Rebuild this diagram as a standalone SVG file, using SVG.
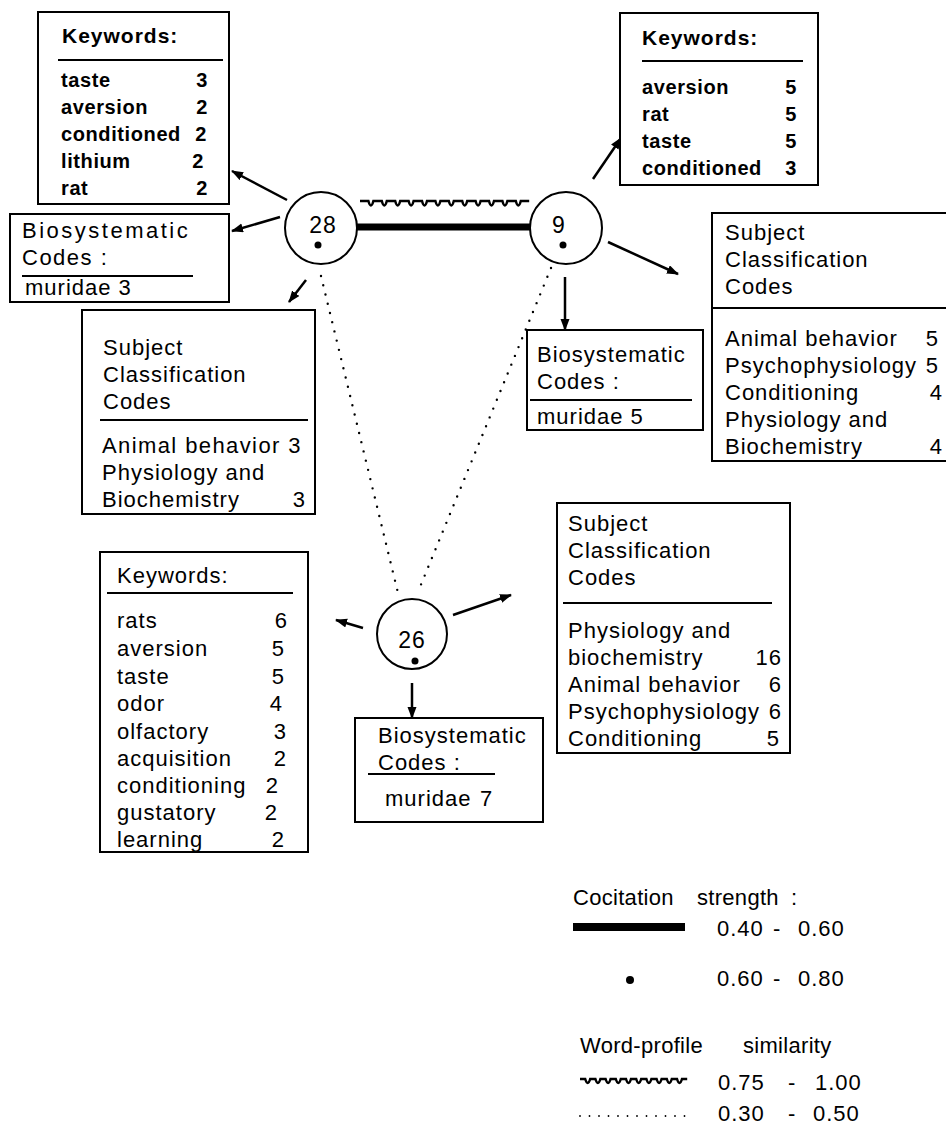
<svg xmlns="http://www.w3.org/2000/svg" width="946" height="1141" viewBox="0 0 946 1141">
<defs>
<style>
.box{fill:#fff;stroke:#000;stroke-width:2}
.sep{stroke:#000;stroke-width:2}
.t{font-family:"Liberation Sans",Arial,sans-serif;font-size:22px;letter-spacing:1px;fill:#000}
.k{font-family:"Liberation Sans",Arial,sans-serif;font-size:20px;font-weight:bold;letter-spacing:0.6px;fill:#000}
.e{text-anchor:end}
.circ{fill:#fff;stroke:#000;stroke-width:2}
.arr{stroke:#000;stroke-width:2.5;fill:none;marker-end:url(#ah)}
.dot{stroke:#000;stroke-width:2.4;stroke-linecap:round;stroke-dasharray:0 9.5;fill:none}
.wave{stroke:#000;stroke-width:2.5;fill:none}
</style>
<marker id="ah" markerUnits="userSpaceOnUse" markerWidth="12" markerHeight="10" refX="11" refY="4.5" orient="auto">
<path d="M0,0 L12,4.5 L0,9 z" fill="#000"/>
</marker>
</defs>
<rect width="946" height="1141" fill="#fff"/>

<g id="connectors">
<line x1="357" y1="227" x2="531" y2="227" stroke="#000" stroke-width="7"/>
<path class="wave" d="M360,201 h8.4 q2.5,9 5,0 h8.4 q2.5,9 5,0 h8.4 q2.5,9 5,0 h8.4 q2.5,9 5,0 h8.4 q2.5,9 5,0 h8.4 q2.5,9 5,0 h8.4 q2.5,9 5,0 h8.4 q2.5,9 5,0 h8.4 q2.5,9 5,0 h8.4 q2.5,9 5,0 h8.4 q2.5,9 5,0 h8.4 q2.5,9 5,0 h8.4"/>
<line class="dot" x1="321" y1="276" x2="398" y2="593"/>
<line class="dot" x1="551" y1="268" x2="420" y2="587"/>
<line class="arr" x1="287" y1="200" x2="232" y2="171"/>
<line class="arr" x1="280" y1="217" x2="232" y2="231"/>
<line class="arr" x1="306" y1="280" x2="289" y2="302"/>
<line class="arr" x1="593" y1="179" x2="621" y2="138"/>
<line class="arr" x1="608" y1="242" x2="678" y2="274"/>
<line class="arr" x1="565" y1="277" x2="565" y2="330"/>
<line class="arr" x1="363" y1="628" x2="336" y2="620"/>
<line class="arr" x1="453" y1="615" x2="511" y2="595"/>
<line class="arr" x1="412" y1="683" x2="412" y2="718"/>
</g>

<g id="node-28">
<circle class="circ" cx="321" cy="228" r="36"/>
<text class="t" x="323" y="233" text-anchor="middle" style="font-size:23px">28</text>
<circle cx="318" cy="245" r="3.5" fill="#000"/>
</g>

<g id="node-9">
<circle class="circ" cx="566" cy="228" r="36"/>
<text class="t" x="559" y="233" text-anchor="middle" style="font-size:23px">9</text>
<circle cx="563" cy="245" r="3.5" fill="#000"/>
</g>

<g id="node-26">
<circle class="circ" cx="412" cy="634" r="35"/>
<text class="t" x="412" y="648" text-anchor="middle" style="font-size:23px">26</text>
<circle cx="415" cy="661" r="3.5" fill="#000"/>
</g>

<g id="keywords-28">
<rect class="box" x="38" y="12" width="191" height="192"/>
<text class="k" x="62" y="43" style="font-size:21px;letter-spacing:1px">Keywords:</text>
<line class="sep" x1="58" y1="60" x2="223" y2="60"/>
<text class="k" x="61" y="87">taste</text><text class="k e" x="208" y="87">3</text>
<text class="k" x="61" y="114">aversion</text><text class="k e" x="208" y="114">2</text>
<text class="k" x="61" y="141">conditioned</text><text class="k e" x="207" y="141">2</text>
<text class="k" x="61" y="168">lithium</text><text class="k e" x="204" y="168">2</text>
<text class="k" x="61" y="195">rat</text><text class="k e" x="208" y="195">2</text>
</g>

<g id="biosys-28">
<rect class="box" x="10" y="214" width="219" height="88"/>
<text class="t" x="22" y="238" style="letter-spacing:2.5px">Biosystematic</text>
<text class="t" x="22" y="265" style="letter-spacing:1.5px">Codes :</text>
<line class="sep" x1="22" y1="276" x2="193" y2="276"/>
<text class="t" x="25" y="295">muridae 3</text>
</g>

<g id="subject-28">
<rect class="box" x="82" y="310" width="233" height="204"/>
<text class="t" x="103" y="355">Subject</text>
<text class="t" x="103" y="382">Classification</text>
<text class="t" x="103" y="409">Codes</text>
<line class="sep" x1="100" y1="420" x2="308" y2="420"/>
<text class="t" x="102" y="453" style="letter-spacing:1.4px">Animal behavior 3</text>
<text class="t" x="102" y="480">Physiology and</text>
<text class="t" x="102" y="507">Biochemistry</text><text class="t e" x="306" y="507">3</text>
</g>

<g id="keywords-9">
<rect class="box" x="620" y="13" width="198" height="172"/>
<text class="k" x="642" y="45" style="font-size:21px;letter-spacing:1px">Keywords:</text>
<line class="sep" x1="642" y1="61" x2="803" y2="61"/>
<text class="k" x="642" y="94">aversion</text><text class="k e" x="797" y="94">5</text>
<text class="k" x="642" y="121">rat</text><text class="k e" x="797" y="121">5</text>
<text class="k" x="642" y="148">taste</text><text class="k e" x="797" y="148">5</text>
<text class="k" x="642" y="175">conditioned</text><text class="k e" x="797" y="175">3</text>
</g>

<g id="subject-9">
<rect class="box" x="712" y="213" width="240" height="248"/>
<text class="t" x="725" y="240">Subject</text>
<text class="t" x="725" y="267">Classification</text>
<text class="t" x="725" y="294">Codes</text>
<line class="sep" x1="713" y1="308" x2="946" y2="308"/>
<text class="t" x="725" y="346">Animal behavior</text><text class="t e" x="939" y="346">5</text>
<text class="t" x="725" y="373">Psychophysiology</text><text class="t e" x="939" y="373">5</text>
<text class="t" x="725" y="400">Conditioning</text><text class="t e" x="943" y="400">4</text>
<text class="t" x="725" y="427">Physiology and</text>
<text class="t" x="725" y="454">Biochemistry</text><text class="t e" x="943" y="454">4</text>
</g>

<g id="biosys-9">
<rect class="box" x="527" y="330" width="176" height="100"/>
<text class="t" x="537" y="362">Biosystematic</text>
<text class="t" x="537" y="389">Codes :</text>
<line class="sep" x1="530" y1="400" x2="692" y2="400"/>
<text class="t" x="537" y="424">muridae 5</text>
</g>

<g id="keywords-26">
<rect class="box" x="100" y="552" width="208" height="300"/>
<text class="t" x="117" y="583">Keywords:</text>
<line class="sep" x1="107" y1="593" x2="293" y2="593"/>
<text class="t" x="117" y="628">rats</text><text class="t e" x="288" y="628">6</text>
<text class="t" x="117" y="656">aversion</text><text class="t e" x="285" y="656">5</text>
<text class="t" x="117" y="684">taste</text><text class="t e" x="285" y="684">5</text>
<text class="t" x="117" y="711">odor</text><text class="t e" x="283" y="711">4</text>
<text class="t" x="117" y="739">olfactory</text><text class="t e" x="287" y="739">3</text>
<text class="t" x="117" y="766">acquisition</text><text class="t e" x="287" y="766">2</text>
<text class="t" x="117" y="793">conditioning</text><text class="t e" x="279" y="793">2</text>
<text class="t" x="117" y="820">gustatory</text><text class="t e" x="278" y="820">2</text>
<text class="t" x="117" y="847">learning</text><text class="t e" x="285" y="847">2</text>
</g>

<g id="subject-26">
<rect class="box" x="557" y="503" width="233" height="250"/>
<text class="t" x="568" y="531">Subject</text>
<text class="t" x="568" y="558">Classification</text>
<text class="t" x="568" y="585">Codes</text>
<line class="sep" x1="563" y1="603" x2="772" y2="603"/>
<text class="t" x="568" y="638">Physiology and</text>
<text class="t" x="568" y="665">biochemistry</text><text class="t e" x="782" y="665">16</text>
<text class="t" x="568" y="692">Animal behavior</text><text class="t e" x="782" y="692">6</text>
<text class="t" x="568" y="719">Psychophysiology</text><text class="t e" x="782" y="719">6</text>
<text class="t" x="568" y="746">Conditioning</text><text class="t e" x="780" y="746">5</text>
</g>

<g id="biosys-26">
<rect class="box" x="355" y="718" width="188" height="104"/>
<text class="t" x="378" y="743">Biosystematic</text>
<text class="t" x="378" y="770">Codes :</text>
<line class="sep" x1="368" y1="774" x2="495" y2="774"/>
<text class="t" x="385" y="806">muridae</text><text class="t" x="480" y="806">7</text>
</g>

<g id="legend">
<text class="t" x="573" y="905" style="letter-spacing:0.3px">Cocitation</text>
<text class="t" x="697" y="905" style="letter-spacing:0.3px">strength</text>
<text class="t" x="791" y="905">:</text>
<line x1="573" y1="927" x2="685" y2="927" stroke="#000" stroke-width="8"/>
<text class="t" x="717" y="936">0.40</text><text class="t" x="773" y="936">-</text><text class="t" x="798" y="936">0.60</text>
<circle cx="630" cy="980" r="4" fill="#000"/>
<text class="t" x="717" y="986">0.60</text><text class="t" x="773" y="986">-</text><text class="t" x="798" y="986">0.80</text>
<text class="t" x="580" y="1053" style="letter-spacing:0.3px">Word-profile</text>
<text class="t" x="743" y="1053" style="letter-spacing:0.3px">similarity</text>
<path class="wave" d="M580,1079 h5.2 q2.5,8 5,0 h5.2 q2.5,8 5,0 h5.2 q2.5,8 5,0 h5.2 q2.5,8 5,0 h5.2 q2.5,8 5,0 h5.2 q2.5,8 5,0 h5.2 q2.5,8 5,0 h5.2 q2.5,8 5,0 h5.2 q2.5,8 5,0 h5.2 q2.5,8 5,0 h5.2"/>
<text class="t" x="718" y="1090">0.75</text><text class="t" x="788" y="1090">-</text><text class="t" x="815" y="1090">1.00</text>
<line x1="580" y1="1116" x2="687" y2="1116" stroke="#000" stroke-width="1.8" stroke-linecap="round" stroke-dasharray="0 9.5"/>
<text class="t" x="718" y="1121">0.30</text><text class="t" x="788" y="1121">-</text><text class="t" x="813" y="1121">0.50</text>
</g>
</svg>
